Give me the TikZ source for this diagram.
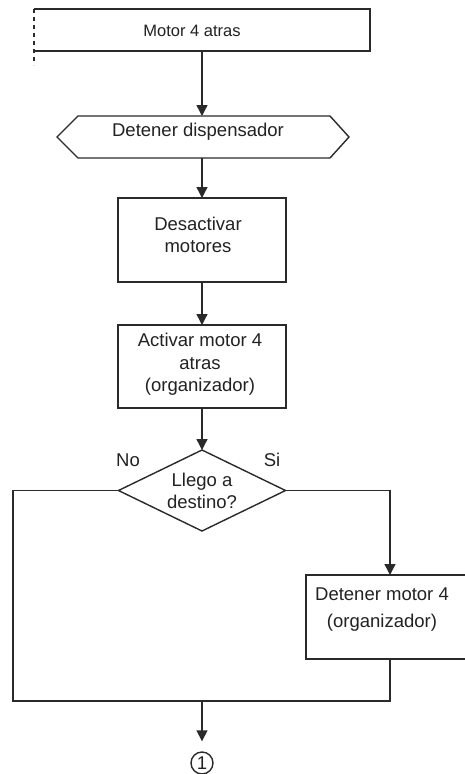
\documentclass[tikz,border=0pt]{standalone}
\usepackage{fontspec}
\setmainfont{Liberation Sans}
\usetikzlibrary{arrows.meta,calc}
\definecolor{ln}{HTML}{2A2A2A}
\definecolor{tx}{HTML}{222222}
\begin{document}
\begin{tikzpicture}[x=1pt,y=-1pt,
  line/.style={line width=1.4pt, draw=ln},
  arr/.style={line, -{Triangle[length=11pt,width=11pt]}},
  frame/.style={rectangle, inner sep=0pt, outer sep=0pt},
  boxed/.style={frame, line, minimum width=168pt},
  txt/.style={font=\fontsize{18.5}{22.5}\selectfont, text=tx, align=center, inner sep=0pt}]
\useasboundingbox[fill=white] (0,0) rectangle (465,774);

% block carried over from the previous page (open on the left)
\node[frame, minimum width=336pt, minimum height=42pt] (top) at (202,30) {};
\node[txt, font=\fontsize{16.5}{20}\selectfont] (toptxt) at (192,31) {Motor 4 atras};
\draw[line] (top.north west) -- (top.north east) -- (top.south east) -- (top.south west);
\draw[line, dash pattern=on 4pt off 4pt] (top.north west) -- ++(0,56);

% preparation (hexagon)
\node[frame, minimum width=292pt, minimum height=42pt] (disp) at (203,137) {};
\draw[line] (disp.west) -- ($(disp.north west)+(21,0)$) -- ($(disp.north east)+(-19,0)$)
  -- (disp.east) -- ($(disp.south east)+(-19,0)$) -- ($(disp.south west)+(21,0)$) -- cycle;
\node[txt] (disptxt) at (198,132) {Detener dispensador};

% process boxes
\node[boxed, minimum height=84pt] (desact) at (202,240) {};
\node[txt] (desacttxt) at (198,235) {Desactivar\\motores};

\node[boxed, minimum height=83pt] (activ) at (202,366.5) {};
\node[txt] (activtxt) at (200,364.5) {Activar motor 4\\atras\\(organizador)};

% decision
\node[frame, minimum width=167pt, minimum height=81pt] (llego) at (202,490.5) {};
\draw[line] (llego.north) -- (llego.east) -- (llego.south) -- (llego.west) -- cycle;
\node[txt] (llegotxt) at (202,491) {Llego a\\destino?};
\node[txt] (no) at (128,460) {No};
\node[txt] (si) at (272,460) {Si};

\node[boxed, minimum height=84pt] (detm) at (390,617) {};
\node[txt, font=\fontsize{18.5}{27}\selectfont] (detmtxt) at (382,610) {Detener motor 4\\(organizador)};

% off-page connector
\node[circle, line, minimum size=22pt, inner sep=0pt, txt] (c1) at (202,763) {1};

\coordinate (lft) at (13,701);

% connectors
\draw[arr] (top.south) -- (top.south |- disp.north);
\draw[arr] (disp.south -| desact.north) -- (desact.north);
\draw[arr] (desact.south) -- (activ.north);
\draw[arr] (activ.south) -- (llego.north);
\draw[arr] (llego.east) -- (llego.east -| detm.north) -- (detm.north);
\draw[line] (llego.west) -- (llego.west -| lft) -- (lft) -- (lft -| detm.south) -- (detm.south);
\draw[arr, shorten >=10pt] (lft -| c1) -- (c1.north);
\end{tikzpicture}
\end{document}
